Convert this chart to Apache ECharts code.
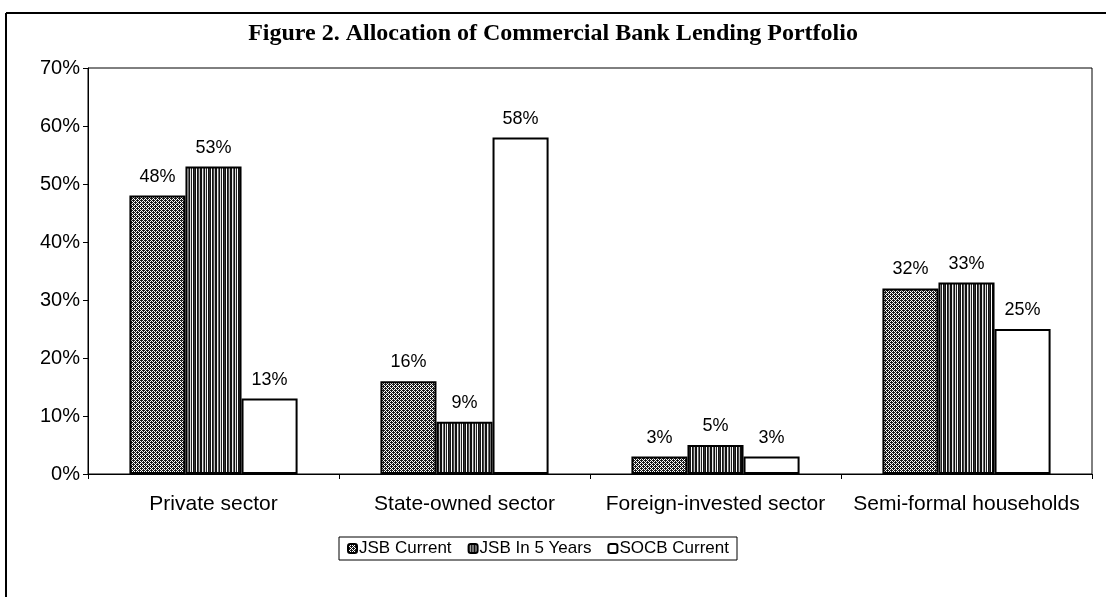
<!DOCTYPE html>
<html>
<head>
<meta charset="utf-8">
<script src="https://cdn.jsdelivr.net/npm/echarts@6/dist/echarts.min.js"></script>
<style>
  html, body { margin: 0; padding: 0; background: #fff; }
  #chart { width: 1106px; height: 597px; }
</style>
</head>
<body>
<div id="chart"></div>
<script>
// data
const categories = ['Private sector', 'State-owned sector', 'Foreign-invested sector', 'Semi-formal households'];
const seriesNames = ['JSB Current', 'JSB In 5 Years', 'SOCB Current'];
const jsbCurrent = [48, 16, 3, 32];
const jsbFiveYears = [53, 9, 5, 33];
const socbCurrent = [13, 58, 3, 25];
const yTicks = [0, 10, 20, 30, 40, 50, 60, 70];

// fill patterns like the old excel print
function crossHatch () {
    const c = document.createElement('canvas');
    c.width = 4; c.height = 4;
    const ctx = c.getContext('2d');
    ctx.fillStyle = '#fff';
    ctx.fillRect(0, 0, 4, 4);
    ctx.fillStyle = '#1a1a1a';
    // diagonal lattice
    const pts = [[0,0],[1,1],[2,2],[3,3],[3,1],[1,3],[2,0],[0,2],[1,0],[3,2]];
    pts.forEach(p => ctx.fillRect(p[0], p[1], 1, 1));
    return c;
}
function vStripes () {
    const c = document.createElement('canvas');
    const cols = ['#111','#fff','#111','#444','#bbb','#111','#111','#eee','#666','#111','#ddd','#222','#fff','#111','#333'];
    c.width = cols.length; c.height = 1;
    const ctx = c.getContext('2d');
    cols.forEach((col, i) => { ctx.fillStyle = col; ctx.fillRect(i, 0, 1, 1); });
    return c;
}

const fills = [
    { image: crossHatch(), repeat: 'repeat' },
    { image: vStripes(), repeat: 'repeat' },
    '#ffffff'
];
const values = [jsbCurrent, jsbFiveYears, socbCurrent];

const font = 'Liberation Sans, Arial, sans-serif';

let myChart = echarts.init(document.getElementById('chart'));
myChart.setOption({
    animation: false,
    backgroundColor: '#fff',
    title: {
        text: 'Figure 2. Allocation of Commercial Bank Lending Portfolio',
        left: 'center',
        top: 17,
        textStyle: {
            fontFamily: 'Liberation Serif, Times New Roman, serif',
            fontWeight: 'bold',
            fontSize: 24,
            color: '#000'
        }
    },
    graphic: [
        // outer frame (left + top edge of the scanned box)
        { type: 'line', shape: { x1: 6, y1: 13, x2: 1106, y2: 13 }, style: { stroke: '#000', lineWidth: 2 } },
        { type: 'line', shape: { x1: 6, y1: 13, x2: 6, y2: 597 }, style: { stroke: '#000', lineWidth: 2 } }
    ],
    legend: {
        data: seriesNames,
        left: 339,
        top: 537,
        orient: 'horizontal',
        padding: [3, 8, 3, 8],
        itemGap: 16,
        itemWidth: 9,
        itemHeight: 9,
        borderColor: '#000',
        borderWidth: 1,
        borderRadius: 0,
        textStyle: { fontFamily: font, fontSize: 17, color: '#000', padding: [0, 0, 0, -3] }
    },
    grid: {
        left: 88,
        right: 14,
        top: 68,
        bottom: 123,
        show: true,
        borderColor: '#000',
        borderWidth: 1,
        backgroundColor: 'transparent'
    },
    xAxis: {
        type: 'category',
        data: categories,
        axisLine: { lineStyle: { color: '#000', width: 1 } },
        axisTick: { show: true, interval: 0, length: 5, lineStyle: { color: '#000' } },
        axisLabel: { interval: 0, fontFamily: font, fontSize: 21, color: '#000', margin: 20 }
    },
    yAxis: {
        type: 'value',
        min: 0,
        max: 70,
        interval: 10,
        splitLine: { show: false },
        axisLine: { show: true, lineStyle: { color: '#000', width: 1 } },
        axisTick: { show: true, length: 5, lineStyle: { color: '#000' } },
        axisLabel: {
            fontFamily: font, fontSize: 20, color: '#000', margin: 8,
            formatter: v => yTicks.includes(v) ? v + '%' : ''
        }
    },
    series: seriesNames.map((name, i) => ({
        name: name,
        type: 'bar',
        data: values[i],
        barGap: 0,
        barCategoryGap: '33%',
        itemStyle: { color: fills[i], borderColor: '#000', borderWidth: 2 },
        label: {
            show: true,
            position: 'top',
            distance: 10,
            formatter: '{c}%',
            fontFamily: font,
            fontSize: 18,
            color: '#000'
        }
    }))
});
</script>
</body>
</html>
